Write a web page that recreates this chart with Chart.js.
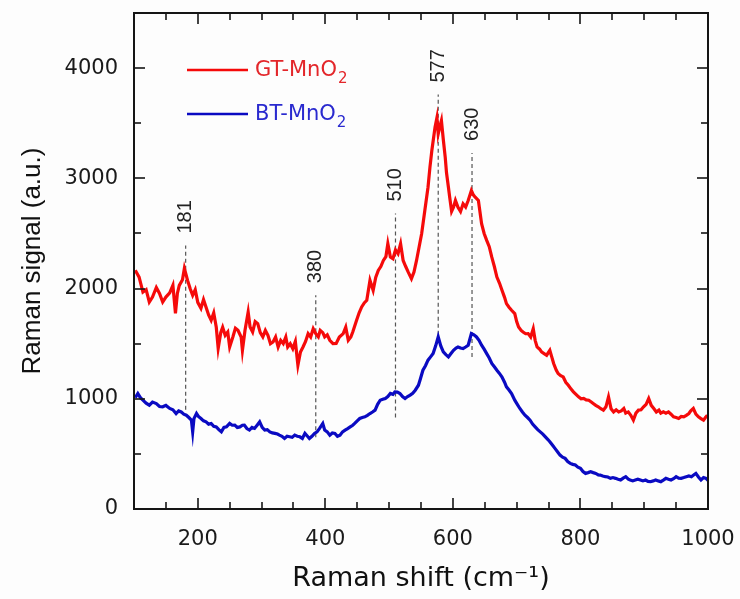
<!DOCTYPE html>
<html>
<head>
<meta charset="utf-8">
<script src="https://cdn.jsdelivr.net/npm/chart.js@4.4.1/dist/chart.umd.min.js"></script>
<style>
  html, body { margin: 0; padding: 0; background: #fdfdfd; }
</style>
</head>
<body>
<canvas id="ramanChart" width="740" height="599"></canvas>
<script>
// GT-MnO2 spectrum
var gtShift = [102,108,114,119,124,129,135,140,145,150,
  156,161,165,168,171,176,179,184,188,192,
  196,200,205,209,213,217,221,225,229,232,
  236,239,243,247,250,255,259,263,268,270,
  274,279,282,286,290,294,298,302,306,310,
  314,318,322,326,330,334,338,341,345,349,
  353,357,361,365,369,373,377,381,385,389,
  392,396,399,403,407,412,417,422,428,432,
  436,440,443,449,453,457,461,465,470,475,
  479,483,487,491,495,498,502,506,510,514,
  518,522,526,530,535,539,543,548,551,556,
  561,564,567,572,575,577,580,582,585,588,
  590,593,595,598,601,604,608,612,616,620,
  624,629,632,635,640,645,649,653,657,661,
  665,669,673,677,681,684,688,692,697,700,
  703,707,710,714,718,722,726,729,732,736,
  739,743,747,752,755,758,762,765,769,773,
  777,781,785,789,793,797,801,805,809,813,
  817,820,824,828,832,836,840,844,848,852,
  856,860,864,868,871,875,879,883,887,891,
  895,899,903,907,911,915,919,923,926,930,
  934,938,942,946,950,954,958,962,966,970,
  973,977,981,985,989,993,996,999];
var gtSignal = [2165,2104,1968,1990,1878,1923,2010,1956,1878,1923,
  1960,2029,1775,1956,2029,2080,2183,2074,2000,1938,
  1990,1875,1821,1900,1830,1760,1712,1780,1649,1458,
  1600,1649,1576,1606,1470,1561,1640,1621,1561,1440,
  1620,1787,1651,1606,1700,1682,1600,1561,1620,1576,
  1500,1515,1560,1470,1530,1501,1560,1470,1500,1455,
  1520,1304,1425,1470,1520,1591,1560,1636,1590,1561,
  1621,1600,1561,1580,1531,1500,1501,1560,1591,1650,
  1531,1560,1606,1712,1780,1833,1870,1893,2074,1984,
  2100,2165,2200,2255,2290,2407,2285,2270,2350,2316,
  2407,2255,2200,2149,2090,2150,2255,2407,2497,2708,
  2919,3100,3252,3463,3550,3403,3480,3524,3350,3191,
  3050,2919,2829,2700,2738,2800,2738,2700,2769,2740,
  2799,2890,2850,2829,2799,2588,2500,2437,2380,2285,
  2200,2104,2050,1984,1920,1863,1830,1803,1773,1700,
  1651,1620,1606,1590,1591,1560,1636,1530,1470,1450,
  1425,1410,1395,1440,1380,1320,1260,1229,1210,1198,
  1150,1123,1090,1063,1040,1017,1000,1003,990,987,
  970,957,940,927,910,897,927,1017,910,881,
  900,881,890,912,870,881,850,806,870,897,
  900,927,950,1003,940,912,880,897,870,881,
  870,881,860,836,830,821,840,836,850,866,
  890,912,860,836,820,806,830,851];

// BT-MnO2 spectrum
var btShift = [102,106,110,114,119,124,129,135,140,145,
  150,156,161,166,170,174,178,182,186,190,
  192,194,198,201,205,209,213,217,221,225,
  229,233,237,241,245,250,254,258,262,266,
  270,273,277,281,285,289,293,297,301,305,
  309,313,317,321,325,328,332,336,340,344,
  348,352,356,360,364,368,372,375,379,383,
  387,391,396,399,403,407,411,415,419,423,
  427,431,435,439,443,446,450,454,458,462,
  466,470,474,478,482,486,490,494,498,502,
  506,509,513,517,521,525,529,533,537,541,
  546,549,553,557,561,565,569,573,577,581,
  585,589,593,597,601,605,608,612,616,620,
  624,629,633,637,641,645,649,653,657,661,
  665,669,673,677,681,684,688,692,697,701,
  705,709,713,717,721,725,729,733,737,741,
  745,749,752,756,760,764,768,772,776,780,
  784,788,792,796,800,804,808,812,816,820,
  824,828,831,835,839,843,847,851,855,859,
  863,867,871,875,878,882,886,890,894,898,
  902,906,910,914,918,922,926,930,934,938,
  942,946,950,954,958,962,966,970,974,978,
  981,985,989,993,997,1000];
var btSignal = [1010,1048,1010,987,960,942,970,957,930,927,
  940,912,900,866,890,881,860,851,830,806,
  700,820,866,840,821,800,791,770,776,750,
  745,720,700,740,745,776,760,761,740,745,
  760,761,730,716,740,731,760,790,740,716,
  720,700,690,686,680,670,660,640,660,655,
  650,670,660,655,640,686,660,640,660,686,
  700,731,776,716,700,670,690,686,660,670,
  700,716,730,745,760,776,800,821,830,836,
  850,866,880,897,950,987,995,1003,1020,1048,
  1040,1063,1060,1048,1020,1003,1020,1033,1050,1078,
  1123,1180,1259,1300,1350,1380,1410,1480,1561,1480,
  1425,1400,1380,1410,1440,1460,1470,1460,1455,1470,
  1486,1591,1580,1561,1530,1486,1450,1410,1370,1320,
  1290,1259,1230,1198,1150,1108,1080,1048,987,950,
  912,880,851,830,806,770,745,720,700,680,
  655,630,610,580,550,520,489,470,459,430,
  414,405,399,380,369,340,323,330,338,330,
  323,310,308,300,293,290,278,285,278,270,
  263,280,293,270,263,255,263,270,263,255,
  263,250,248,255,263,255,248,262,278,270,
  263,275,293,280,278,285,293,300,293,310,
  323,290,263,285,278,260];

// labelled axis ticks
var xTickValues = [200, 400, 600, 800, 1000];
var yTickValues = [0, 1000, 2000, 3000, 4000];

// marked peaks: where the dashed line sits, its label, and its span
var peakShift = [181, 385, 510, 577, 630];
var peakText = ['181', '380', '510', '577', '630'];
var peakTop = [2390, 1940, 2680, 3760, 3230];
var peakBottom = [900, 650, 830, 1580, 1380];

var seriesNames = ['GT-MnO2', 'BT-MnO2'];
var seriesColors = ['#f50a0a', '#0a0ac2'];

function pairs(xs, ys) {
    return xs.map(function (x, i) { return { x: x, y: ys[i] }; });
}

var datasets = [
    { label: seriesNames[0], data: pairs(gtShift, gtSignal), borderColor: seriesColors[0], order: 0 },
    { label: seriesNames[1], data: pairs(btShift, btSignal), borderColor: seriesColors[1], order: 1 }
].map(function (d) {
    d.showLine = true; d.pointRadius = 0; d.borderWidth = 3.2; d.tension = 0;
    return d;
});

peakShift.forEach(function (s, i) {
    datasets.push({
        label: 'peak' + peakText[i],
        data: [{ x: s, y: peakBottom[i] }, { x: s, y: peakTop[i] }],
        showLine: true, pointRadius: 0, borderColor: '#555', borderWidth: 1.2,
        borderDash: [4, 3], order: 5
    });
});

// box frame with inward ticks on all four sides
var frame = {
    id: 'frame',
    afterDatasetsDraw: function (chart) {
        var a = chart.chartArea, c = chart.ctx, xs = chart.scales.x, ys = chart.scales.y;
        function seg(x1, y1, x2, y2) { c.beginPath(); c.moveTo(x1, y1); c.lineTo(x2, y2); c.stroke(); }
        c.save();
        c.strokeStyle = '#151515';
        c.lineWidth = 1.6;
        for (var v = 150; v < 1000; v += 50) {
            var px = Math.round(xs.getPixelForValue(v));
            var len = v % 200 === 0 ? 11 : 7;
            seg(px, a.bottom, px, a.bottom - len);
            seg(px, a.top, px, a.top + len);
        }
        for (v = 500; v < 4500; v += 500) {
            var py = Math.round(ys.getPixelForValue(v));
            var l2 = v % 1000 === 0 ? 11 : 7;
            seg(a.left, py, a.left + l2, py);
            seg(a.right, py, a.right - l2, py);
        }
        c.lineWidth = 2;
        c.strokeRect(a.left, a.top, a.right - a.left, a.bottom - a.top);
        c.restore();
    }
};

// rotated peak position labels
var peakLabels = {
    id: 'peakLabels',
    afterDatasetsDraw: function (chart) {
        var c = chart.ctx, xs = chart.scales.x, ys = chart.scales.y;
        c.save();
        c.fillStyle = '#222';
        c.font = '20px "Liberation Sans", Arial, sans-serif';
        c.textAlign = 'left';
        c.textBaseline = 'middle';
        peakShift.forEach(function (s, i) {
            c.save();
            c.translate(xs.getPixelForValue(s), ys.getPixelForValue(peakTop[i]) - 12);
            c.rotate(-Math.PI / 2);
            c.fillText(peakText[i], 0, 0);
            c.restore();
        });
        c.restore();
    }
};

// legend with subscript 2
var legendBox = {
    id: 'legendBox',
    afterDraw: function (chart) {
        var c = chart.ctx;
        var rows = [70, 114];
        var textColors = ['#e3262a', '#2a2acf'];
        c.save();
        seriesNames.forEach(function (name, i) {
            var y = rows[i];
            c.strokeStyle = seriesColors[i];
            c.lineWidth = 2.6;
            c.beginPath(); c.moveTo(187, y); c.lineTo(248, y); c.stroke();
            c.fillStyle = textColors[i];
            c.textAlign = 'left';
            c.textBaseline = 'middle';
            c.font = '21px "DejaVu Sans", sans-serif';
            var main = name.slice(0, -1);
            c.fillText(main, 255, y + 1);
            var w = c.measureText(main).width;
            c.font = '15px "DejaVu Sans", sans-serif';
            c.fillText(name.slice(-1), 256 + w, y + 9);
        });
        c.restore();
    }
};

function noEdgePadding(s) {
    s.paddingTop = 0; s.paddingBottom = 0; s.paddingLeft = 0; s.paddingRight = 0;
}

var ctx = document.getElementById('ramanChart').getContext('2d');
var ramanChart = new Chart(ctx, {
    type: 'scatter',
    data: { datasets: datasets },
    options: {
        responsive: false,
        devicePixelRatio: 1,
        animation: false,
        layout: { padding: { top: 13, right: 32, bottom: 0, left: 0 } },
        plugins: { legend: { display: false }, tooltip: { enabled: false } },
        scales: {
            x: {
                type: 'linear',
                min: 100,
                max: 1000,
                grid: { display: false },
                border: { display: false },
                afterFit: function (s) { s.height = 90; noEdgePadding(s); },
                afterBuildTicks: function (s) {
                    s.ticks = xTickValues.map(function (v) { return { value: v }; });
                },
                ticks: {
                    padding: 10,
                    color: '#1a1a1a',
                    font: { family: 'DejaVu Sans', size: 21 },
                    maxRotation: 0,
                    autoSkip: false,
                    format: { useGrouping: false }
                },
                title: {
                    display: true,
                    text: 'Raman shift (cm\u207B\u00B9)',
                    color: '#111',
                    font: { family: 'DejaVu Sans', size: 27 },
                    padding: { top: 0, bottom: 4 }
                }
            },
            y: {
                type: 'linear',
                min: 0,
                max: 4500,
                grid: { display: false },
                border: { display: false },
                afterFit: function (s) { s.width = 134; noEdgePadding(s); },
                afterBuildTicks: function (s) {
                    s.ticks = yTickValues.map(function (v) { return { value: v }; });
                },
                ticks: {
                    padding: 8,
                    color: '#1a1a1a',
                    font: { family: 'DejaVu Sans', size: 21 },
                    autoSkip: false,
                    format: { useGrouping: false }
                },
                title: {
                    display: true,
                    text: 'Raman signal (a.u.)',
                    color: '#111',
                    font: { family: 'Liberation Sans', size: 26 },
                    padding: { top: 17, bottom: 0 }
                }
            }
        }
    },
    plugins: [frame, peakLabels, legendBox]
});
</script>
</body>
</html>
